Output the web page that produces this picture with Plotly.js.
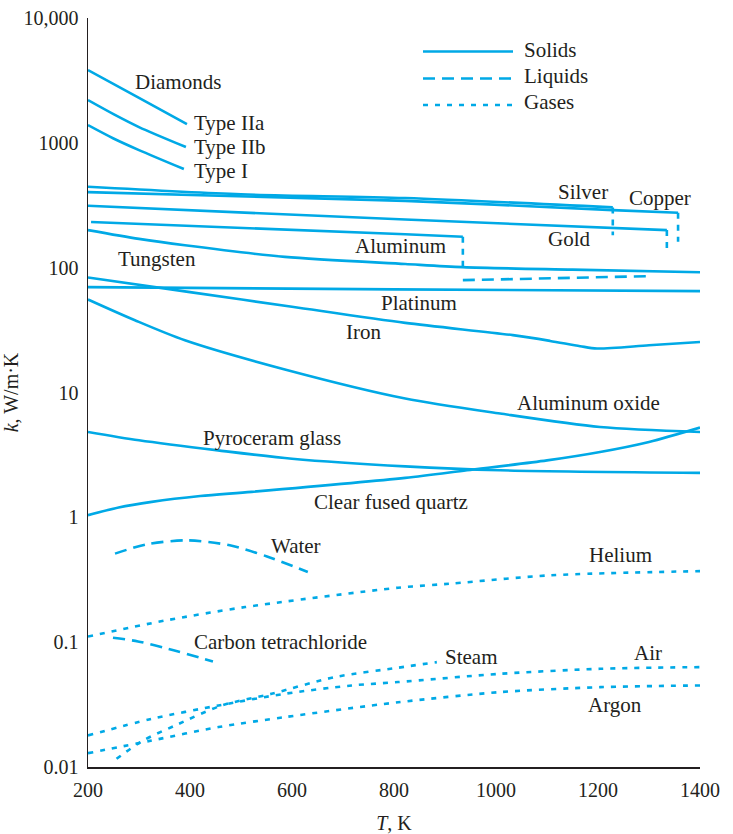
<!DOCTYPE html>
<html>
<head>
<meta charset="utf-8">
<script src="https://cdn.plot.ly/plotly-3.0.1.min.js"></script>
<style>html,body{margin:0;padding:0;background:#fff;}#chart{width:733px;height:834px;}</style>
</head>
<body>
<div id="chart"></div>
<script>
// ---- Data (T in K, k in W/m·K) ----
const diamondIIa_T = [200, 300, 394];
const diamondIIa_k = [3830, 2290, 1413];
const diamondIIb_T = [200, 250, 300, 392];
const diamondIIb_k = [2200, 1698, 1337, 925];
const diamondI_T = [200, 250, 300, 388];
const diamondI_k = [1387, 1084, 875, 617];

const silver_T = [200, 500, 822, 1229];
const silver_k = [445, 387, 361, 304];
const silverMelt_T = [1229, 1229];
const silverMelt_k = [304, 182];

const copper_T = [200, 822, 1229, 1357];
const copper_k = [403, 343, 289, 275];
const copperMelt_T = [1357, 1357];
const copperMelt_k = [275, 161];

const gold_T = [200, 822, 1335];
const gold_k = [313, 243, 200];
const goldMelt_T = [1335, 1335];
const goldMelt_k = [200, 143];

const aluminum_T = [206, 822, 935];
const aluminum_k = [232, 185, 177];
const aluminumMelt_T = [935, 935];
const aluminumMelt_k = [177, 101];
const aluminumLiquid_T = [935, 1302];
const aluminumLiquid_k = [79.4, 85.5];

const tungsten_T = [200, 300, 390, 586, 822, 935, 1150, 1400];
const tungsten_k = [200, 170, 151, 122, 107, 101, 96.4, 92];

const platinum_T = [200, 800, 1400];
const platinum_k = [69.8, 67, 64.9];

const iron_T = [200, 400, 600, 822, 1033, 1106, 1165, 1198, 1300, 1400];
const iron_k = [83.4, 63.7, 48.6, 36.1, 28.8, 25.9, 23.5, 22.5, 23.9, 25.4];

const alumina_T = [200, 292, 390, 586, 822, 1008, 1204, 1400];
const alumina_k = [55.6, 37.9, 26.2, 15.3, 8.95, 6.78, 5.29, 4.83];

const pyroceram_T = [200, 300, 455, 600, 822, 1008, 1400];
const pyroceram_k = [4.83, 4.14, 3.44, 2.95, 2.56, 2.38, 2.27];

const quartz_T = [200, 260, 325, 420, 521, 822, 943, 1100, 1204, 1300, 1400];
const quartz_k = [1.04, 1.2, 1.33, 1.48, 1.6, 2.07, 2.38, 2.86, 3.34, 4.02, 5.24];

const water_T = [253, 315, 394, 478, 551, 631];
const water_k = [0.512, 0.608, 0.654, 0.597, 0.486, 0.365];

const ccl4_T = [249, 298, 357, 445];
const ccl4_k = [0.1086, 0.1014, 0.0886, 0.0701];

const helium_T = [200, 351, 508, 808, 910, 1106, 1400];
const helium_k = [0.111, 0.149, 0.191, 0.273, 0.294, 0.343, 0.371];

const steam_T = [256, 308, 371, 462, 560, 684, 808, 884];
const steam_k = [0.01164, 0.0163, 0.0215, 0.0311, 0.0386, 0.0525, 0.0624, 0.0692];

const air_T = [200, 325, 456, 586, 717, 808, 1008, 1204, 1400];
const air_k = [0.0179, 0.0243, 0.0311, 0.0386, 0.0450, 0.0479, 0.0558, 0.0612, 0.0631];

const argon_T = [200, 325, 456, 586, 808, 1008, 1204, 1400];
const argon_k = [0.0129, 0.0163, 0.0209, 0.0251, 0.0330, 0.0398, 0.0436, 0.0450];

const yTickVals = [0.01, 0.1, 1, 10, 100, 1000, 10000];
const yTickText = ['0.01', '0.1', '1', '10', '100', '1000', '10,000'];
const xTickVals = [200, 400, 600, 800, 1000, 1200, 1400];

const legendNames = ['Solids', 'Liquids', 'Gases'];

// ---- Styling ----
const BLUE = '#00a9e6';
const INK = '#231f20';
const FONT = 'Liberation Serif, Times New Roman, serif';
const SOLID = 'solid', LIQ = '12px,7px', GAS = '5px,7px', MELT = '6px,6px';

function tr(x, y, dash, shape) {
  return {
    x: x, y: y, type: 'scatter', mode: 'lines', showlegend: false, hoverinfo: 'skip',
    line: {color: BLUE, width: 2.6, dash: dash, shape: shape || 'spline', smoothing: 0.8}
  };
}

const data = [
  tr(diamondIIa_T, diamondIIa_k, SOLID),
  tr(diamondIIb_T, diamondIIb_k, SOLID),
  tr(diamondI_T, diamondI_k, SOLID),
  tr(silver_T, silver_k, SOLID),
  tr(silverMelt_T, silverMelt_k, MELT, 'linear'),
  tr(copper_T, copper_k, SOLID),
  tr(copperMelt_T, copperMelt_k, MELT, 'linear'),
  tr(gold_T, gold_k, SOLID),
  tr(goldMelt_T, goldMelt_k, MELT, 'linear'),
  tr(aluminum_T, aluminum_k, SOLID),
  tr(aluminumMelt_T, aluminumMelt_k, MELT, 'linear'),
  tr(aluminumLiquid_T, aluminumLiquid_k, LIQ),
  tr(tungsten_T, tungsten_k, SOLID),
  tr(platinum_T, platinum_k, SOLID),
  tr(iron_T, iron_k, SOLID),
  tr(alumina_T, alumina_k, SOLID),
  tr(pyroceram_T, pyroceram_k, SOLID),
  tr(quartz_T, quartz_k, SOLID),
  tr(water_T, water_k, LIQ),
  tr(ccl4_T, ccl4_k, LIQ),
  tr(helium_T, helium_k, GAS),
  tr(steam_T, steam_k, GAS),
  tr(air_T, air_k, GAS),
  tr(argon_T, argon_k, GAS)
];

// pixel -> paper helpers (plot area 88..700 x 18..767)
const PL = 88, PR = 700, PT = 18, PB = 767;
const px = v => (v - PL) / (PR - PL);
const py = v => (PB - v) / (PB - PT);

function lab(text, x, y, anchor) {
  return {text: text, x: px(x), y: py(y), xref: 'paper', yref: 'paper', showarrow: false,
    xanchor: anchor || 'center', yanchor: 'middle', font: {family: FONT, size: 21, color: INK}};
}

const annotations = [
  lab('Diamonds', 178, 82),
  lab('Type IIa', 192, 123, 'left'),
  lab('Type IIb', 192, 147, 'left'),
  lab('Type I', 192, 171, 'left'),
  lab('Silver', 583, 192),
  lab('Copper', 660, 198),
  lab('Gold', 569, 239),
  lab('Aluminum', 400, 246),
  lab('Tungsten', 157, 259),
  lab('Platinum', 419, 303),
  lab('Iron', 363, 332),
  lab('Aluminum oxide', 588, 403),
  lab('Pyroceram glass', 272, 438),
  lab('Clear fused quartz', 391, 502),
  lab('Water', 296, 546),
  lab('Helium', 620, 555),
  lab('Carbon tetrachloride', 280, 642),
  lab('Steam', 471, 657),
  lab('Air', 648, 653),
  lab('Argon', 615, 705),
  lab(legendNames[0], 522, 50, 'left'),
  lab(legendNames[1], 522, 76, 'left'),
  lab(legendNames[2], 522, 102, 'left')
];

const legDash = [SOLID, LIQ, GAS];
const legY = [51.5, 78.5, 105];
const shapes = legY.map((yy, i) => ({
  type: 'line', xref: 'paper', yref: 'paper', x0: px(423), x1: px(513), y0: py(yy), y1: py(yy),
  line: {color: BLUE, width: 2.6, dash: legDash[i]}
}));

const layout = {
  width: 733, height: 834,
  margin: {l: PL, r: 733 - PR, t: PT, b: 834 - PB, pad: 0},
  paper_bgcolor: '#fff', plot_bgcolor: '#fff',
  showlegend: false,
  font: {family: FONT, size: 20, color: INK},
  xaxis: {
    range: [200, 1400], tickvals: xTickVals, ticks: '', showgrid: false, zeroline: false,
    showline: true, linecolor: INK, linewidth: 1.5, ticklabelstandoff: 4,
    tickfont: {family: FONT, size: 20, color: INK},
    title: {text: '<i>T</i>, K', font: {family: FONT, size: 20, color: INK}, standoff: 17},
    automargin: false
  },
  yaxis: {
    type: 'log', range: [-2, 4], tickvals: yTickVals, ticktext: yTickText, ticks: 'outside',
    ticklen: 4, tickcolor: 'rgba(0,0,0,0)', tickwidth: 1,
    showgrid: false, zeroline: false, showline: true, linecolor: INK, linewidth: 1.5,
    tickfont: {family: FONT, size: 20, color: INK},
    title: {text: '<i>k</i>, W/m·K', font: {family: FONT, size: 20, color: INK}, standoff: 6},
    automargin: false
  },
  annotations: annotations,
  shapes: shapes
};

Plotly.newPlot('chart', data, layout, {staticPlot: true, displayModeBar: false});
</script>
</body>
</html>
